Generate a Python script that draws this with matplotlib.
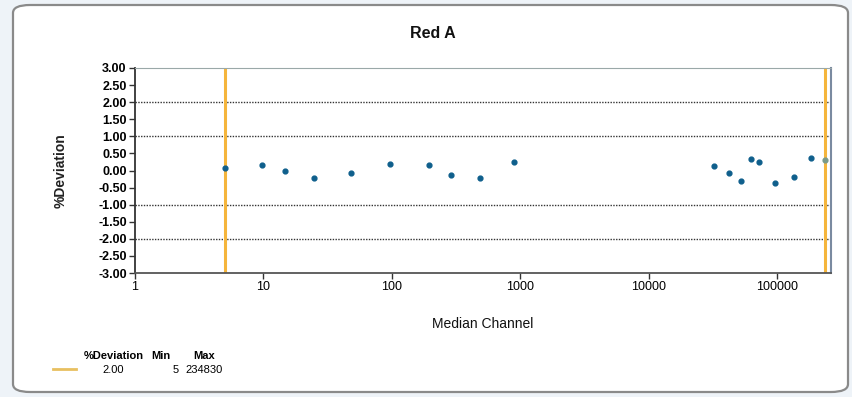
import numpy as np
import matplotlib
matplotlib.use("Agg")
import matplotlib.pyplot as plt
from matplotlib.patches import FancyBboxPatch
from matplotlib.lines import Line2D

plt.rcParams['font.family'] = ['Liberation Sans', 'DejaVu Sans']

# data
median_channel = [5, 9.8, 14.6, 24.6, 48.5, 97, 195, 290, 488, 901,
                  32300, 42500, 52700, 63000, 72700, 97300, 136000, 185000]
deviation = [0.06, 0.17, -0.01, -0.21, -0.08, 0.19, 0.15, -0.12, -0.23, 0.24,
             0.13, -0.08, -0.31, 0.35, 0.26, -0.36, -0.18, 0.37]
last_point = (234830, 0.31)
limit_min = 5
limit_max = 234830
limit_pct = 2.00
y_ticks = [3.0, 2.5, 2.0, 1.5, 1.0, 0.5, 0.0, -0.5, -1.0, -1.5, -2.0, -2.5, -3.0]
x_ticks = [1, 10, 100, 1000, 10000, 100000]
grid_levels = [2.0, 1.0, -1.0, -2.0]

W, H = 853, 397
fig = plt.figure(figsize=(W / 100, H / 100), dpi=100)
fig.patch.set_facecolor("#eef3f8")

# rounded panel behind everything
panel = FancyBboxPatch((13 / W, 5 / H), 1 - 13 / W - 5 / W, (392 - 5) / H,
                       boxstyle="round,pad=0,rounding_size=0.02",
                       transform=fig.transFigure, facecolor="white",
                       edgecolor="#8a8a8a", linewidth=1.6, zorder=-5)
fig.patches.append(panel)

ax = fig.add_axes([135 / W, (H - 273) / H, (831 - 135) / W, (273 - 68) / H])
ax.set_zorder(1)
ax.patch.set_alpha(0)
ax.set_xscale("log")
ax.set_xlim(1, 10 ** ((831 - 135) / 128.4))
ax.set_ylim(-3, 3)

for g in grid_levels:
    ax.axhline(g, color="#333333", linestyle=(0, (1, 1)), linewidth=1.0, zorder=1)

ax.axvline(limit_min, color="#f5b53c", linewidth=2.2, zorder=2)
ax.axvline(limit_max, color="#f5b53c", linewidth=2.2, zorder=2)

ax.scatter(median_channel, deviation, s=12, color="#0f5f8c", zorder=3)
ax.scatter([last_point[0]], [last_point[1]], s=12, color="#7a9a8a", zorder=3)

ax.set_yticks(y_ticks)
ax.set_yticklabels([f"{v:.2f}" for v in y_ticks], fontweight="bold", fontsize=9)
ax.set_xticks(x_ticks)
ax.set_xticklabels([str(v) for v in x_ticks], fontsize=9)
ax.minorticks_off()
ax.tick_params(axis="both", direction="out", length=4, width=1, color="#333333", pad=2)

ax.spines["left"].set_color("#333333")
ax.spines["bottom"].set_color("#555555")
ax.spines["top"].set_color("#9aa8a8")
ax.spines["right"].set_color("#7a8aa0")
ax.spines["left"].set_linewidth(1.3)
ax.spines["bottom"].set_linewidth(1.3)
ax.spines["right"].set_linewidth(1.5)

ax.set_xlabel("Median Channel", fontsize=10, labelpad=17, color="#111111")
ax.set_ylabel("%Deviation", fontsize=10, fontweight="bold", labelpad=22, color="#222222")
fig.text(433 / W, 1 - 33 / H, "Red A", ha="center", va="center",
         fontsize=11.5, fontweight="bold", color="#111111")

# legend table at bottom left
fig.add_artist(Line2D([53 / W, 76 / W], [1 - 369 / H, 1 - 369 / H],
                      color="#e8c060", linewidth=2, transform=fig.transFigure))
fig.text(114 / W, 1 - 356 / H, "%Deviation", ha="center", va="center", fontsize=8, fontweight="bold")
fig.text(161 / W, 1 - 356 / H, "Min", ha="center", va="center", fontsize=8, fontweight="bold")
fig.text(204 / W, 1 - 356 / H, "Max", ha="center", va="center", fontsize=8, fontweight="bold")
fig.text(113 / W, 1 - 370 / H, f"{limit_pct:.2f}", ha="center", va="center", fontsize=8)
fig.text(179 / W, 1 - 370 / H, f"{limit_min}", ha="right", va="center", fontsize=8)
fig.text(185 / W, 1 - 370 / H, f"{limit_max}", ha="left", va="center", fontsize=8)

fig.savefig("out.png", dpi=100, facecolor=fig.get_facecolor())
